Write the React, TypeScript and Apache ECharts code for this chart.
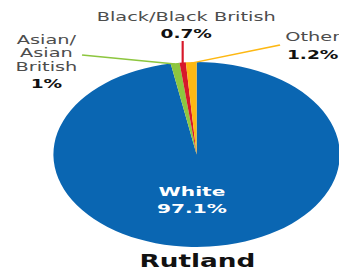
import React, { useEffect, useRef } from "react";
import * as echarts from "echarts";

// ---- data ----
const categories = ["White", "Asian/Asian British", "Black/Black British", "Other"];
const values = [97.1, 1, 0.7, 1.2];
const nameLines = [["White"], ["Asian/", "Asian", "British"], ["Black/Black British"], ["Other"]];
const valueLabels = values.map((v) => v + "%");
const title = "Rutland";

// ---- style ----
const colors = ["#0a66b2", "#8dc63f", "#d7182a", "#fdb813"];
const SCALE_X = 1.548;
const INNER_W = 219;
const H = 276;
const CX = 127;
const CY = 154.5;
const R = 92.5;
const FONT = "DejaVu Sans";
const GRAY = "#4d4d4d";

const labelLayout = [
  { x: 124, y: 191.5, gap: 13.5, vy: 208.5, nameFill: "#ffffff", valFill: "#ffffff", line: null },
  { x: 30, y: 39.5, gap: 13.5, vy: 84, nameFill: GRAY, valFill: "#111111", line: [53, 55] },
  { x: 120.3, y: 16.5, gap: 13.5, vy: 33.5, nameFill: GRAY, valFill: "#111111", line: [0, 41] },
  { x: 202, y: 36.5, gap: 13.5, vy: 54.5, nameFill: GRAY, valFill: "#111111", line: [180.9, 45] },
];

export default function App() {
  const ref = useRef<HTMLDivElement>(null);
  useEffect(() => {
    if (!ref.current) return;
    const chart = echarts.init(ref.current, undefined, { renderer: "svg" });
    const total = values.reduce((a, b) => a + b, 0);
    let acc = 0;
    const graphics: any[] = [];
    values.forEach((v, i) => {
      const mid = ((acc + v / 2) / total) * Math.PI * 2;
      acc += v;
      const L = labelLayout[i];
      const ex = CX + R * Math.sin(mid);
      const ey = CY - R * Math.cos(mid) + 1;
      if (L.line) {
        const endX = L.line[0] === 0 ? ex : L.line[0];
        graphics.push({
          type: "polyline",
          shape: { points: [[ex, ey], [endX, L.line[1]]] },
          style: { stroke: colors[i], lineWidth: 1.4, fill: "none" },
          z: 10,
        });
      }
      nameLines[i].forEach((t, j) => {
        graphics.push({
          type: "text",
          x: L.x,
          y: L.y + j * L.gap,
          z: 20,
          style: {
            text: t,
            fill: L.nameFill,
            fontFamily: FONT,
            fontSize: i === 0 ? 13 : 12.5,
            fontWeight: i === 0 ? "bold" : "normal",
            align: "center",
            verticalAlign: "middle",
          },
        });
      });
      graphics.push({
        type: "text",
        x: L.x,
        y: L.vy,
        z: 20,
        style: {
          text: valueLabels[i],
          fill: L.valFill,
          fontFamily: FONT,
          fontSize: i === 0 ? 13 : 12,
          fontWeight: "bold",
          align: "center",
          verticalAlign: "middle",
        },
      });
    });
    graphics.push({
      type: "text",
      x: 127.5,
      y: 261,
      z: 20,
      style: {
        text: title,
        fill: "#111111",
        fontFamily: FONT,
        fontSize: 17,
        fontWeight: "bold",
        align: "center",
        verticalAlign: "middle",
      },
    });

    chart.setOption({
      animation: false,
      color: colors,
      series: [
        {
          type: "pie",
          center: [CX, CY],
          radius: [0, R],
          startAngle: 90,
          clockwise: true,
          label: { show: false },
          labelLine: { show: false },
          emphasis: { disabled: true },
          itemStyle: { borderWidth: 0 },
          data: categories.map((name, i) => ({ name, value: values[i] })),
        },
      ],
      graphic: graphics,
    });
    return () => chart.dispose();
  }, []);
  return (
    <div
      ref={ref}
      style={{
        position: "absolute",
        left: 0,
        top: 0,
        width: INNER_W,
        height: H,
        transform: `scaleX(${SCALE_X})`,
        transformOrigin: "0 0",
      }}
    />
  );
}
